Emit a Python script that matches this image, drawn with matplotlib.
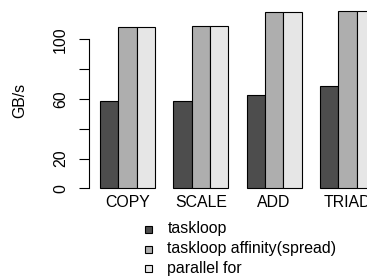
import matplotlib
matplotlib.use("Agg")
import matplotlib.pyplot as plt
from matplotlib.patches import Rectangle
import numpy as np

categories = ["COPY", "SCALE", "ADD", "TRIAD"]
series_names = ["taskloop", "taskloop affinity(spread)", "parallel for"]
taskloop = [58.6, 58.6, 62.6, 68.4]
taskloop_affinity = [108.1, 108.9, 118.1, 118.8]
parallel_for = [108.1, 108.9, 118.1, 118.8]
colors = ["#4D4D4D", "#AEAEAE", "#E6E6E6"]
yticks = [0, 20, 40, 60, 80, 100]
yticklabels = ["0", "20", "", "60", "", "100"]

plt.rcParams["font.family"] = ["Liberation Sans", "DejaVu Sans"]
FS = 11.4

W, H = 367, 280
fig = plt.figure(figsize=(W / 100, H / 100), dpi=100)

# axes in pixel geometry (R-like plot region)
left_px, right_px = 89.0, 385.9
top_px, bottom_px = 3.9, 195.4
ax = fig.add_axes([left_px / W, 1 - bottom_px / H,
                   (right_px - left_px) / W, (bottom_px - top_px) / H])
ax.patch.set_visible(False)

series = [taskloop, taskloop_affinity, parallel_for]
for gi, cat in enumerate(categories):
    for si, vals in enumerate(series):
        x0 = 1 + gi * 4 + si
        ax.bar(x0, vals[gi], width=1.0, align="edge", color=colors[si],
               edgecolor="black", linewidth=0.8, clip_on=False)

ax.set_xlim(0.4, 16.6)
ax.set_ylim(-4.75, 123.75)

for s in ["top", "right", "bottom"]:
    ax.spines[s].set_visible(False)
ax.spines["left"].set_bounds(0, 100)
ax.spines["left"].set_linewidth(0.8)

ax.set_yticks(yticks)
ax.set_yticklabels(yticklabels, rotation=90, va="center", fontsize=FS)
ax.tick_params(axis="y", length=7, width=0.8, pad=8)

centers = [1 + gi * 4 + 1.5 for gi in range(len(categories))]
ax.set_xticks(centers)
ax.set_xticklabels(categories, fontsize=FS)
ax.tick_params(axis="x", length=0, pad=0)

fig.text(20 / W, 1 - 100 / H, "GB/s", rotation=90, va="center", ha="center",
         fontsize=FS)

# legend (R-style, no box)
row_y = [229, 249, 268.3]
for name, col, ypx in zip(series_names, colors, row_y):
    sz = 7
    fig.patches.append(Rectangle(((148.7 - sz / 2) / W, 1 - (ypx + sz / 2) / H),
                                 sz / W, sz / H, transform=fig.transFigure,
                                 facecolor=col, edgecolor="black", linewidth=0.8))
    fig.text(167.3 / W, 1 - ypx / H, name, va="center", ha="left", fontsize=FS)

fig.savefig("out.png", dpi=100)
